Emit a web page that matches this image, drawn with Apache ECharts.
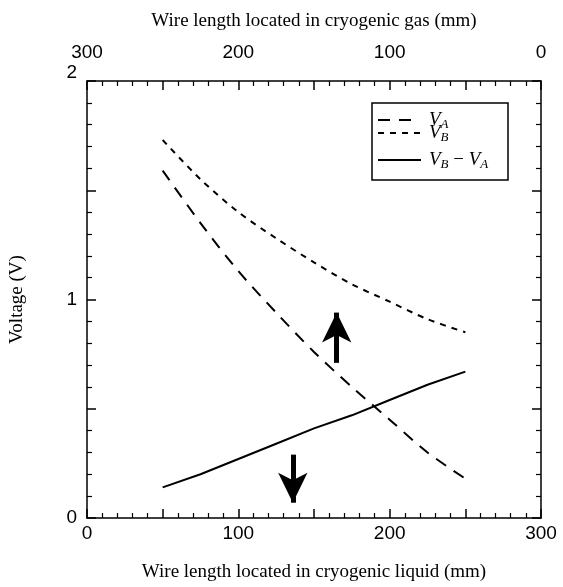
<!DOCTYPE html>
<html>
<head>
<meta charset="utf-8">
<script src="https://cdn.jsdelivr.net/npm/echarts@6.0.0/dist/echarts.min.js"></script>
<style>
  html, body { margin: 0; padding: 0; background: #fff; }
  #chart { width: 563px; height: 587px; }
</style>
</head>
<body>
<div id="chart"></div>
<script>
// wire length in cryogenic liquid (mm)
const liquidLength = [50, 75, 100, 125, 150, 175, 200, 225, 250]
const voltageA = [1.59, 1.35, 1.13, 0.94, 0.76, 0.60, 0.45, 0.30, 0.18]
const voltageB = [1.73, 1.55, 1.40, 1.28, 1.17, 1.07, 0.99, 0.91, 0.85]
const voltageDiff = [0.14, 0.20, 0.27, 0.34, 0.41, 0.47, 0.54, 0.61, 0.67]

// arrows: [x, from, to]
const upArrow = [165, 0.71, 0.94]
const downArrow = [136, 0.29, 0.07]

const liquidTicks = [0, 100, 200, 300]
const gasTicks = [0, 100, 200, 300]
const voltTicks = [0, 1, 2]

const serif = "'Liberation Serif', 'Times New Roman', serif"
const sans = "'Liberation Sans', Arial, sans-serif"

const chart = echarts.init(document.getElementById('chart'))

// shared axis style
const axisCommon = (labelFn, margin) => ({
  axisLine: { show: true, onZero: false, lineStyle: { color: '#000', width: 1.5 } },
  axisTick: { show: true, inside: true, length: 9, lineStyle: { color: '#000', width: 1.5 } },
  minorTick: { show: true, splitNumber: 5, length: 5, lineStyle: { color: '#000', width: 1.2 } },
  splitLine: { show: false },
  minorSplitLine: { show: false },
  axisLabel: {
    show: !!labelFn,
    formatter: labelFn || '',
    color: '#000',
    fontFamily: sans,
    fontSize: 19,
    margin: margin,
    rich: { hi: { fontFamily: sans, fontSize: 19, color: '#000', padding: [0, 0, 16, 0] } }
  }
})

const nameStyle = { fontFamily: serif, fontSize: 19, color: '#000' }

const option = {
  backgroundColor: '#fff',
  animation: false,
  grid: { left: 87, right: 22, top: 81, bottom: 62 },
  xAxis: [
    {
      type: 'value', position: 'bottom', min: 0, max: 300, interval: 50,
      name: 'Wire length located in cryogenic liquid (mm)',
      nameLocation: 'middle', nameGap: 45, nameTextStyle: nameStyle,
      ...axisCommon(v => liquidTicks.includes(v) ? String(v) : '', 6)
    },
    {
      type: 'value', position: 'top', min: 0, max: 300, interval: 50, inverse: true,
      name: 'Wire length located in cryogenic gas (mm)',
      nameLocation: 'middle', nameGap: 50, nameTextStyle: nameStyle,
      ...axisCommon(v => gasTicks.includes(v) ? String(v) : '', 19)
    }
  ],
  yAxis: [
    {
      type: 'value', position: 'left', min: 0, max: 2, interval: 0.5,
      name: 'Voltage (V)',
      nameLocation: 'middle', nameGap: 60, nameRotate: 90, nameTextStyle: nameStyle,
      // top label sits a little above the frame
      ...axisCommon(v => v === 2 ? '{hi|2}' : (voltTicks.includes(v) ? String(v) : ''), 10)
    },
    {
      type: 'value', position: 'right', min: 0, max: 2, interval: 0.5,
      ...axisCommon(null, 10)
    }
  ],
  series: [
    {
      name: 'VA', type: 'line', smooth: 0.3, showSymbol: false,
      data: liquidLength.map((x, i) => [x, voltageA[i]]),
      lineStyle: { color: '#000', width: 2, type: [12, 9] }
    },
    {
      name: 'VB', type: 'line', smooth: 0.3, showSymbol: false,
      data: liquidLength.map((x, i) => [x, voltageB[i]]),
      lineStyle: { color: '#000', width: 2, type: [6, 6] }
    },
    {
      name: 'VB-VA', type: 'line', showSymbol: false,
      data: liquidLength.map((x, i) => [x, voltageDiff[i]]),
      lineStyle: { color: '#000', width: 2, type: 'solid' },
      markLine: {
        silent: true,
        symbol: ['none', 'arrow'],
        symbolSize: [22, 30],
        label: { show: false },
        lineStyle: { color: '#000', width: 5, type: 'solid' },
        data: [
          [{ coord: [upArrow[0], upArrow[1]] }, { coord: [upArrow[0], upArrow[2]] }],
          [{ coord: [downArrow[0], downArrow[1]] }, { coord: [downArrow[0], downArrow[2]] }]
        ]
      }
    }
  ],
  // legend box drawn by hand for italic subscripts
  graphic: [
    { type: 'rect', shape: { x: 372, y: 103, width: 136, height: 77 },
      style: { fill: '#fff', stroke: '#000', lineWidth: 1.5 }, z: 10 },
    { type: 'line', shape: { x1: 378, y1: 120, x2: 420, y2: 120 },
      style: { stroke: '#000', lineWidth: 2, lineDash: [12, 9] }, z: 11 },
    { type: 'line', shape: { x1: 378, y1: 133, x2: 420, y2: 133 },
      style: { stroke: '#000', lineWidth: 2, lineDash: [6, 6] }, z: 11 },
    { type: 'line', shape: { x1: 378, y1: 160, x2: 421, y2: 160 },
      style: { stroke: '#000', lineWidth: 2 }, z: 11 },
    ...[['{v|V}{s|A}', 120], ['{v|V}{s|B}', 133], ['{v|V}{s|B}{m| − }{v|V}{s|A}', 160]].map(([t, y]) => ({
      type: 'text', x: 429, y: y, z: 11,
      style: {
        text: t, verticalAlign: 'middle', fill: '#000',
        rich: {
          v: { fontFamily: serif, fontStyle: 'italic', fontSize: 19, lineHeight: 19, verticalAlign: 'bottom' },
          s: { fontFamily: serif, fontStyle: 'italic', fontSize: 13, lineHeight: 19, verticalAlign: 'bottom', padding: [0, 0, -2, 0] },
          m: { fontFamily: serif, fontSize: 19, lineHeight: 19, verticalAlign: 'bottom' }
        }
      }
    }))
  ]
}

chart.setOption(option)
</script>
</body>
</html>
